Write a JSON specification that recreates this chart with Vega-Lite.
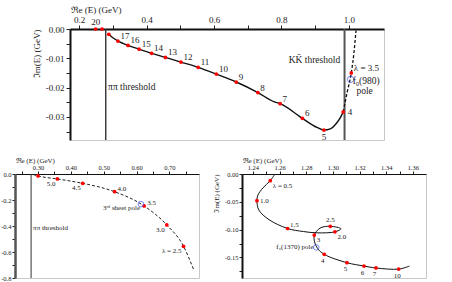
{
  "$schema": "https://vega.github.io/schema/vega-lite/v6.json",
  "padding": {"left": 0, "top": 4, "right": 0, "bottom": 0},
  "config": {
    "font": "Liberation Serif",
    "view": {"stroke": "#c8c8c8", "strokeWidth": 1},
    "axis": {"grid": false, "labelFont": "Liberation Serif", "titleFont": "Liberation Serif", "labelColor": "#222", "titleColor": "#222", "titleFontWeight": "normal", "tickColor": "#222", "domainColor": "#111", "labelFlush": false, "labelOverlap": false},
    "text": {"font": "Liberation Serif", "color": "#222"}
  },
  "datasets": {
    "topCurve": [
      {"re": 0.288, "im": -0.0018}, {"re": 0.300, "im": -0.0030}, {"re": 0.315, "im": -0.0041}, {"re": 0.330, "im": -0.0049},
      {"re": 0.345, "im": -0.0056}, {"re": 0.378, "im": -0.0069}, {"re": 0.415, "im": -0.0083}, {"re": 0.456, "im": -0.0097},
      {"re": 0.502, "im": -0.0113}, {"re": 0.553, "im": -0.0131}, {"re": 0.607, "im": -0.0154}, {"re": 0.666, "im": -0.0181},
      {"re": 0.730, "im": -0.0217}, {"re": 0.777, "im": -0.0248}, {"re": 0.796, "im": -0.0255}, {"re": 0.862, "im": -0.0305},
      {"re": 0.905, "im": -0.0336}, {"re": 0.926, "im": -0.0345}, {"re": 0.945, "im": -0.0341}, {"re": 0.963, "im": -0.0322},
      {"re": 0.975, "im": -0.0302}, {"re": 0.983, "im": -0.0283}
    ],
    "topDash": [
      {"re": 0.983, "im": -0.0283}, {"re": 0.995, "im": -0.0215}, {"re": 1.007, "im": -0.0150}, {"re": 1.015, "im": -0.0080}, {"re": 1.021, "im": -0.0005}
    ],
    "topPts": [
      {"re": 0.249, "im": 0.0, "lab": "20"}, {"re": 0.268, "im": 0.0, "lab": ""}, {"re": 0.288, "im": -0.0018, "lab": ""},
      {"re": 0.315, "im": -0.0041, "lab": "17"}, {"re": 0.345, "im": -0.0056, "lab": "16"}, {"re": 0.378, "im": -0.0069, "lab": "15"},
      {"re": 0.415, "im": -0.0083, "lab": "14"}, {"re": 0.456, "im": -0.0097, "lab": "13"}, {"re": 0.502, "im": -0.0113, "lab": "12"},
      {"re": 0.553, "im": -0.0131, "lab": "11"}, {"re": 0.607, "im": -0.0154, "lab": "10"}, {"re": 0.666, "im": -0.0181, "lab": "9"},
      {"re": 0.730, "im": -0.0217, "lab": "8"}, {"re": 0.796, "im": -0.0255, "lab": "7"}, {"re": 0.862, "im": -0.0305, "lab": "6"},
      {"re": 0.926, "im": -0.0345, "lab": "5"}, {"re": 0.983, "im": -0.0283, "lab": "4"}, {"re": 1.007, "im": -0.0150, "lab": "λ = 3.5"}
    ],
    "topThr": [{"re": 0.279, "kind": "pipi"}, {"re": 0.987, "kind": "kk"}],
    "topPole": [{"re": 1.005, "im": -0.0172}],
    "topNotes": [
      {"re": 0.286, "im": -0.0197, "txt": "ππ threshold", "side": "l"},
      {"re": 0.974, "im": -0.0106, "txt": "KK̄ threshold", "side": "r"},
      {"re": 1.011, "im": -0.0179, "txt": "f₀(980)", "side": "l"},
      {"re": 1.0465, "im": -0.0211, "txt": "pole", "side": "c"}
    ],
    "blCurve": [
      {"re": 0.285, "im": -0.004}, {"re": 0.300, "im": -0.015}, {"re": 0.359, "im": -0.038}, {"re": 0.436, "im": -0.0717},
      {"re": 0.533, "im": -0.136}, {"re": 0.623, "im": -0.246}, {"re": 0.692, "im": -0.392}, {"re": 0.743, "im": -0.556}, {"re": 0.773, "im": -0.731}
    ],
    "blPts": [
      {"re": 0.300, "im": -0.015, "lab": ""}, {"re": 0.359, "im": -0.038, "lab": "5.0"}, {"re": 0.436, "im": -0.0717, "lab": "4.5"},
      {"re": 0.533, "im": -0.136, "lab": "4.0"}, {"re": 0.623, "im": -0.246, "lab": "3.5"}, {"re": 0.692, "im": -0.392, "lab": "3.0"},
      {"re": 0.743, "im": -0.556, "lab": "λ = 2.5"}
    ],
    "blThr": [{"re": 0.279}],
    "blPole": [{"re": 0.613, "im": -0.231}],
    "blNotes": [
      {"re": 0.279, "im": -0.418, "txt": "ππ threshold", "side": "l"},
      {"re": 0.6107, "im": -0.262, "txt": "3ʳᵈ sheet pole", "side": "r"}
    ],
    "brCurve": [
      {"t": 1, "re": 1.2565, "im": 0.0}, {"t": 2, "re": 1.253, "im": -0.012}, {"t": 3, "re": 1.2475, "im": -0.025},
      {"t": 4, "re": 1.2437, "im": -0.038}, {"t": 5, "re": 1.243, "im": -0.048}, {"t": 6, "re": 1.2445, "im": -0.065},
      {"t": 7, "re": 1.252, "im": -0.082}, {"t": 8, "re": 1.266, "im": -0.098}, {"t": 9, "re": 1.278, "im": -0.1035},
      {"t": 10, "re": 1.288, "im": -0.1058}, {"t": 11, "re": 1.3015, "im": -0.104}, {"t": 12, "re": 1.306, "im": -0.0985},
      {"t": 13, "re": 1.298, "im": -0.094}, {"t": 14, "re": 1.291, "im": -0.0965}, {"t": 15, "re": 1.2875, "im": -0.1035},
      {"t": 16, "re": 1.286, "im": -0.1097}, {"t": 17, "re": 1.2862, "im": -0.122}, {"t": 18, "re": 1.2885, "im": -0.134},
      {"t": 19, "re": 1.2935, "im": -0.1445}, {"t": 20, "re": 1.3105, "im": -0.1595}, {"t": 21, "re": 1.3233, "im": -0.1655},
      {"t": 22, "re": 1.3323, "im": -0.169}, {"t": 23, "re": 1.3493, "im": -0.171}, {"t": 24, "re": 1.3575, "im": -0.1655}
    ],
    "brPts": [
      {"re": 1.253, "im": -0.012, "lab": "λ = 0.5"}, {"re": 1.243, "im": -0.048, "lab": "1.0"}, {"re": 1.266, "im": -0.098, "lab": "1.5"},
      {"re": 1.3015, "im": -0.104, "lab": "2.0"}, {"re": 1.298, "im": -0.094, "lab": "2.5"}, {"re": 1.286, "im": -0.1097, "lab": "3"},
      {"re": 1.2935, "im": -0.1445, "lab": "4"}, {"re": 1.3105, "im": -0.1595, "lab": "5"}, {"re": 1.3233, "im": -0.1655, "lab": "6"},
      {"re": 1.3323, "im": -0.169, "lab": "7"}, {"re": 1.3493, "im": -0.171, "lab": "10"}
    ],
    "brPole": [{"re": 1.2875, "im": -0.132}],
    "brNotes": [{"re": 1.2855, "im": -0.132, "txt": "f₀(1370) pole"}]
  },
  "spacing": 12,
  "vconcat": [
    {
      "spacing": 0,
      "hconcat": [
        {"width": 16, "height": 1, "data": {"values": []}, "mark": "point", "view": {"stroke": null}},
        {
          "width": 314, "height": 111,
          "encoding": {
            "x": {"field": "re", "type": "quantitative", "scale": {"domain": [0.173, 1.104], "nice": false, "zero": false},
              "axis": {"orient": "top", "title": "ℜe (E) (GeV)", "titleAnchor": "start", "titlePadding": 1, "titleFontSize": 9, "labelFontSize": 9,
                "values": [0.2, 0.3, 0.4, 0.5, 0.6, 0.7, 0.8, 0.9, 1.0], "labelOverlap": false,
                "labelExpr": "round(datum.value*10)%2==0 ? format(datum.value,'.1f') : ''",
                "tickSize": 4, "labelPadding": 1, "domainWidth": 2}},
            "y": {"field": "im", "type": "quantitative", "scale": {"domain": [-0.0379, 0], "nice": false, "zero": false},
              "axis": {"title": "ℑm(E) (GeV)", "titleAnchor": "end", "titleFontSize": 9, "titlePadding": 4, "labelFontSize": 9,
                "values": [-0.035, -0.03, -0.025, -0.02, -0.015, -0.01, -0.005, 0], "labelOverlap": false,
                "labelExpr": "abs(round(datum.value*1000))%10==0 ? replace(format(datum.value,'.2f'),'−','-') : ''",
                "tickSize": 4, "labelPadding": 2, "domainWidth": 2}}
          },
          "layer": [
            {"data": {"name": "topThr"}, "transform": [{"filter": "datum.kind=='pipi'"}], "mark": {"type": "rule", "color": "#333", "strokeWidth": 1.4},
              "encoding": {"y": {"value": 0}, "y2": {"value": "height"}}},
            {"data": {"name": "topThr"}, "transform": [{"filter": "datum.kind=='kk'"}], "mark": {"type": "rule", "color": "#555", "strokeWidth": 2},
              "encoding": {"y": {"value": 0}, "y2": {"value": "height"}}},
            {"data": {"name": "topCurve"}, "mark": {"type": "line", "interpolate": "monotone", "color": "#111", "strokeWidth": 1.4}, "encoding": {}},
            {"data": {"name": "topDash"}, "mark": {"type": "line", "interpolate": "monotone", "color": "#111", "strokeWidth": 1.3, "strokeDash": [3, 2]}, "encoding": {}},
            {"data": {"name": "topPts"}, "mark": {"type": "point", "filled": true, "color": "#ff0000", "size": 14, "opacity": 1}},
            {"data": {"name": "topPts"}, "transform": [{"filter": {"field": "lab", "oneOf": ["17", "16", "15", "14", "13", "12", "11", "10", "9", "8", "7", "6", "λ = 3.5"]}}],
              "mark": {"type": "text", "align": "left", "baseline": "middle", "dx": 2.5, "dy": -5, "fontSize": 9},
              "encoding": {"text": {"field": "lab"}}},
            {"data": {"name": "topPts"}, "transform": [{"filter": {"field": "lab", "oneOf": ["20"]}}],
              "mark": {"type": "text", "align": "center", "baseline": "middle", "dy": -7, "fontSize": 9},
              "encoding": {"text": {"field": "lab"}}},
            {"data": {"name": "topPts"}, "transform": [{"filter": {"field": "lab", "oneOf": ["5"]}}],
              "mark": {"type": "text", "align": "center", "baseline": "middle", "dy": 7, "fontSize": 9},
              "encoding": {"text": {"field": "lab"}}},
            {"data": {"name": "topPts"}, "transform": [{"filter": {"field": "lab", "oneOf": ["4"]}}],
              "mark": {"type": "text", "align": "left", "baseline": "middle", "dx": 4.5, "fontSize": 9},
              "encoding": {"text": {"field": "lab"}}},
            {"data": {"name": "topPole"}, "mark": {"type": "point", "filled": false, "color": "#3b55f0", "size": 40, "strokeWidth": 1}},
            {"data": {"name": "topNotes"}, "transform": [{"filter": "datum.side=='l'"}],
              "mark": {"type": "text", "align": "left", "baseline": "middle", "fontSize": 9.5},
              "encoding": {"text": {"field": "txt"}}},
            {"data": {"name": "topNotes"}, "transform": [{"filter": "datum.side=='r'"}],
              "mark": {"type": "text", "align": "right", "baseline": "middle", "fontSize": 9.5},
              "encoding": {"text": {"field": "txt"}}},
            {"data": {"name": "topNotes"}, "transform": [{"filter": "datum.side=='c'"}],
              "mark": {"type": "text", "align": "center", "baseline": "middle", "fontSize": 9.5},
              "encoding": {"text": {"field": "txt"}}}
          ]
        }
      ]
    },
    {
      "spacing": 11,
      "hconcat": [
        {
          "width": 184, "height": 104,
          "encoding": {
            "x": {"field": "re", "type": "quantitative", "scale": {"domain": [0.23, 0.79], "nice": false, "zero": false},
              "axis": {"orient": "top", "title": "ℜe (E) (GeV)", "titleAnchor": "start", "titlePadding": 1, "titleFontSize": 7, "labelFontSize": 6.5,
                "values": [0.25, 0.3, 0.35, 0.4, 0.45, 0.5, 0.55, 0.6, 0.65, 0.7, 0.75], "labelOverlap": false,
                "labelExpr": "round(datum.value*100)%10==0 ? format(datum.value,'.2f') : ''",
                "tickSize": 3, "labelPadding": 1, "domainWidth": 1}},
            "y": {"field": "im", "type": "quantitative", "scale": {"domain": [-0.8, 0], "nice": false, "zero": false},
              "axis": {"title": null, "labelFontSize": 6.5, "labelOverlap": false,
                "values": [-0.8, -0.7, -0.6, -0.5, -0.4, -0.3, -0.2, -0.1, 0],
                "labelExpr": "abs(round(datum.value*10))%2==0 ? replace(format(datum.value,'.1f'),'−','-') : ''",
                "tickSize": 3, "labelPadding": 1, "domainWidth": 2.5, "domainColor": "#555"}}
          },
          "layer": [
            {"data": {"name": "blThr"}, "mark": {"type": "rule", "color": "#333", "strokeWidth": 1},
              "encoding": {"y": {"value": 0}, "y2": {"value": "height"}}},
            {"data": {"name": "blCurve"}, "mark": {"type": "line", "interpolate": "monotone", "color": "#222", "strokeWidth": 1, "strokeDash": [3, 2]}, "encoding": {}},
            {"data": {"name": "blPts"}, "mark": {"type": "point", "filled": true, "color": "#ff0000", "size": 14, "opacity": 1}},
            {"data": {"name": "blPts"}, "transform": [{"filter": {"field": "lab", "oneOf": ["5.0", "4.5", "3.0", "λ = 2.5"]}}],
              "mark": {"type": "text", "align": "right", "baseline": "middle", "dx": -2, "dy": 5, "fontSize": 7},
              "encoding": {"text": {"field": "lab"}}},
            {"data": {"name": "blPts"}, "transform": [{"filter": {"field": "lab", "oneOf": ["4.0", "3.5"]}}],
              "mark": {"type": "text", "align": "left", "baseline": "middle", "dx": 3, "dy": -3, "fontSize": 7},
              "encoding": {"text": {"field": "lab"}}},
            {"data": {"name": "blPole"}, "mark": {"type": "point", "filled": false, "color": "#3b55f0", "size": 30, "strokeWidth": 1}},
            {"data": {"name": "blNotes"}, "transform": [{"filter": "datum.side=='l'"}],
              "mark": {"type": "text", "align": "left", "baseline": "middle", "dx": 2, "fontSize": 7},
              "encoding": {"text": {"field": "txt"}}},
            {"data": {"name": "blNotes"}, "transform": [{"filter": "datum.side=='r'"}],
              "mark": {"type": "text", "align": "right", "baseline": "middle", "fontSize": 7},
              "encoding": {"text": {"field": "txt"}}}
          ]
        },
        {
          "width": 184, "height": 104,
          "encoding": {
            "x": {"field": "re", "type": "quantitative", "scale": {"domain": [1.2318, 1.3698], "nice": false, "zero": false},
              "axis": {"orient": "top", "title": "ℜe (E) (GeV)", "titleAnchor": "start", "titlePadding": 1, "titleFontSize": 7, "labelFontSize": 6.5,
                "values": [1.24, 1.25, 1.26, 1.27, 1.28, 1.29, 1.3, 1.31, 1.32, 1.33, 1.34, 1.35, 1.36], "labelOverlap": false,
                "labelExpr": "round(datum.value*100)%2==0 ? format(datum.value,'.2f') : ''",
                "tickSize": 3, "labelPadding": 1, "domainWidth": 1.2}},
            "y": {"field": "im", "type": "quantitative", "scale": {"domain": [-0.187, 0], "nice": false, "zero": false},
              "axis": {"title": "ℑm(E) (GeV)", "titleAnchor": "end", "titleFontSize": 7, "titlePadding": 5, "labelFontSize": 6.5, "labelOverlap": false,
                "values": [-0.175, -0.15, -0.125, -0.1, -0.075, -0.05, -0.025, 0],
                "labelExpr": "abs(round(datum.value*1000))%50==0 ? replace(format(datum.value,'.2f'),'−','-') : ''",
                "tickSize": 3, "labelPadding": 1, "domainWidth": 2}}
          },
          "layer": [
            {"data": {"name": "brCurve"}, "mark": {"type": "line", "interpolate": "catmull-rom", "color": "#111", "strokeWidth": 1},
              "encoding": {"order": {"field": "t", "type": "quantitative"}}},
            {"data": {"name": "brPts"}, "mark": {"type": "point", "filled": true, "color": "#ff0000", "size": 14, "opacity": 1}},
            {"data": {"name": "brPts"}, "transform": [{"filter": {"field": "lab", "oneOf": ["λ = 0.5", "2.0", "3"]}}],
              "mark": {"type": "text", "align": "left", "baseline": "middle", "dx": 2.5, "dy": 5, "fontSize": 7},
              "encoding": {"text": {"field": "lab"}}},
            {"data": {"name": "brPts"}, "transform": [{"filter": {"field": "lab", "oneOf": ["1.0"]}}],
              "mark": {"type": "text", "align": "left", "baseline": "middle", "dx": 3, "fontSize": 7},
              "encoding": {"text": {"field": "lab"}}},
            {"data": {"name": "brPts"}, "transform": [{"filter": {"field": "lab", "oneOf": ["1.5"]}}],
              "mark": {"type": "text", "align": "left", "baseline": "middle", "dx": 2.5, "dy": -4, "fontSize": 7},
              "encoding": {"text": {"field": "lab"}}},
            {"data": {"name": "brPts"}, "transform": [{"filter": {"field": "lab", "oneOf": ["2.5"]}}],
              "mark": {"type": "text", "align": "center", "baseline": "middle", "dy": -6, "fontSize": 7},
              "encoding": {"text": {"field": "lab"}}},
            {"data": {"name": "brPts"}, "transform": [{"filter": {"field": "lab", "oneOf": ["4", "5", "6", "7", "10"]}}],
              "mark": {"type": "text", "align": "center", "baseline": "middle", "dx": -1.5, "dy": 6.5, "fontSize": 7},
              "encoding": {"text": {"field": "lab"}}},
            {"data": {"name": "brPole"}, "mark": {"type": "point", "filled": false, "color": "#3b55f0", "size": 30, "strokeWidth": 1}},
            {"data": {"name": "brNotes"},
              "mark": {"type": "text", "align": "right", "baseline": "middle", "fontSize": 7},
              "encoding": {"text": {"field": "txt"}}}
          ]
        }
      ]
    }
  ]
}
